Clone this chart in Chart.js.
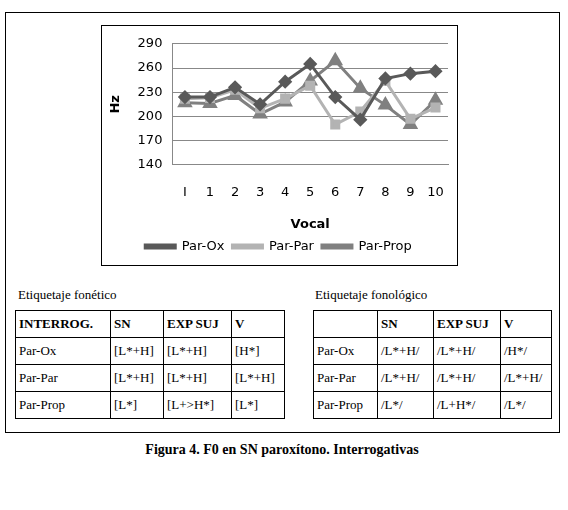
<!DOCTYPE html>
<html><head><meta charset="utf-8">
<script src="https://cdn.jsdelivr.net/npm/chart.js@4"></script>
<style>
body{margin:0;background:#fff;font-family:"Liberation Serif",serif;}
#frame{position:absolute;left:5px;top:12px;width:553px;height:419px;border:1px solid #000;}
#box{position:absolute;left:101px;top:25px;width:355px;height:239px;border:1px solid #000;}
.lbl{position:absolute;font-size:13px;top:287px;}
table{position:absolute;border-collapse:collapse;font-size:13px;top:310px;}
td{border:1px solid #000;height:26px;padding:0 3px;white-space:nowrap;}
.h td{font-weight:bold;}
#cap{position:absolute;top:442px;left:0;width:564px;text-align:center;font-weight:bold;font-size:14px;}
</style></head><body>
<div id="frame"></div>
<div id="box"><canvas id="c" width="355" height="239"></canvas></div>
<div class="lbl" style="left:18px">Etiquetaje fonético</div>
<div class="lbl" style="left:315px">Etiquetaje fonológico</div>
<table style="left:15px;width:270px">
<tr class="h"><td style="width:88px">INTERROG.</td><td style="width:46px">SN</td><td style="width:61px">EXP SUJ</td><td>V</td></tr>
<tr><td>Par-Ox</td><td>[L*+H]</td><td>[L*+H]</td><td>[H*]</td></tr>
<tr><td>Par-Par</td><td>[L*+H]</td><td>[L*+H]</td><td>[L*+H]</td></tr>
<tr><td>Par-Prop</td><td>[L*]</td><td>[L+&gt;H*]</td><td>[L*]</td></tr>
</table>
<table style="left:313px;width:239px">
<tr class="h"><td style="width:57px"></td><td style="width:49px">SN</td><td style="width:60px">EXP SUJ</td><td>V</td></tr>
<tr><td>Par-Ox</td><td>/L*+H/</td><td>/L*+H/</td><td>/H*/</td></tr>
<tr><td>Par-Par</td><td>/L*+H/</td><td>/L*+H/</td><td>/L*+H/</td></tr>
<tr><td>Par-Prop</td><td>/L*/</td><td>/L+H*/</td><td>/L*/</td></tr>
</table>
<div id="cap">Figura 4. F0 en SN paroxítono. Interrogativas</div>
<script>
const vocales = ['I','1','2','3','4','5','6','7','8','9','10'];
const parOx = [224,224,236,215,243,265,224,196,247,253,256];
const parPar = [222,223,233,210,222,238,190,206,244,197,211];
const parProp = [217,216,226,203,218,244,269,235,214,190,220];
const yTicks = [140,170,200,230,260,290];

const ds = (label, data, color, style, r) => ({
  label, data, borderColor: color, backgroundColor: color, borderWidth: 3,
  pointStyle: style, pointRadius: r, pointHoverRadius: r, tension: 0
});
new Chart(document.getElementById('c'), {
  type: 'line',
  data: {
    labels: vocales,
    datasets: [
      ds('Par-Ox', parOx, '#595959', 'rectRot', 5),
      ds('Par-Par', parPar, '#b3b3b3', 'rect', 5),
      ds('Par-Prop', parProp, '#808080', 'triangle', 6)
    ]
  },
  options: {
    responsive: false, animation: false,
    layout: { padding: { top: 12, right: 4, left: 2, bottom: 2 } },
    plugins: {
      legend: { position: 'bottom', labels: { usePointStyle: false, boxWidth: 30, boxHeight: 3, padding: 8, color: '#000', font: { family: 'DejaVu Sans', size: 13 } } },
      tooltip: { enabled: false }
    },
    scales: {
      x: {
        offset: true,
        grid: { display: false }, border: { color: '#888' },
        ticks: { color: '#000', padding: 12, font: { family: 'DejaVu Sans', size: 13 } },
        title: { display: true, text: 'Vocal', color: '#000', font: { family: 'DejaVu Sans', size: 13, weight: 'bold' }, padding: { top: 4, bottom: 0 } }
      },
      y: {
        min: 140, max: 290,
        afterBuildTicks: a => { a.ticks = yTicks.map(v => ({ value: v })); },
        grid: { color: '#888', drawTicks: false }, border: { color: '#888' },
        ticks: { color: '#000', padding: 10, font: { family: 'DejaVu Sans', size: 13 } },
        title: { display: true, text: 'Hz', color: '#000', font: { family: 'DejaVu Sans', size: 13, weight: 'bold' } }
      }
    }
  }
});
</script>
</body></html>
